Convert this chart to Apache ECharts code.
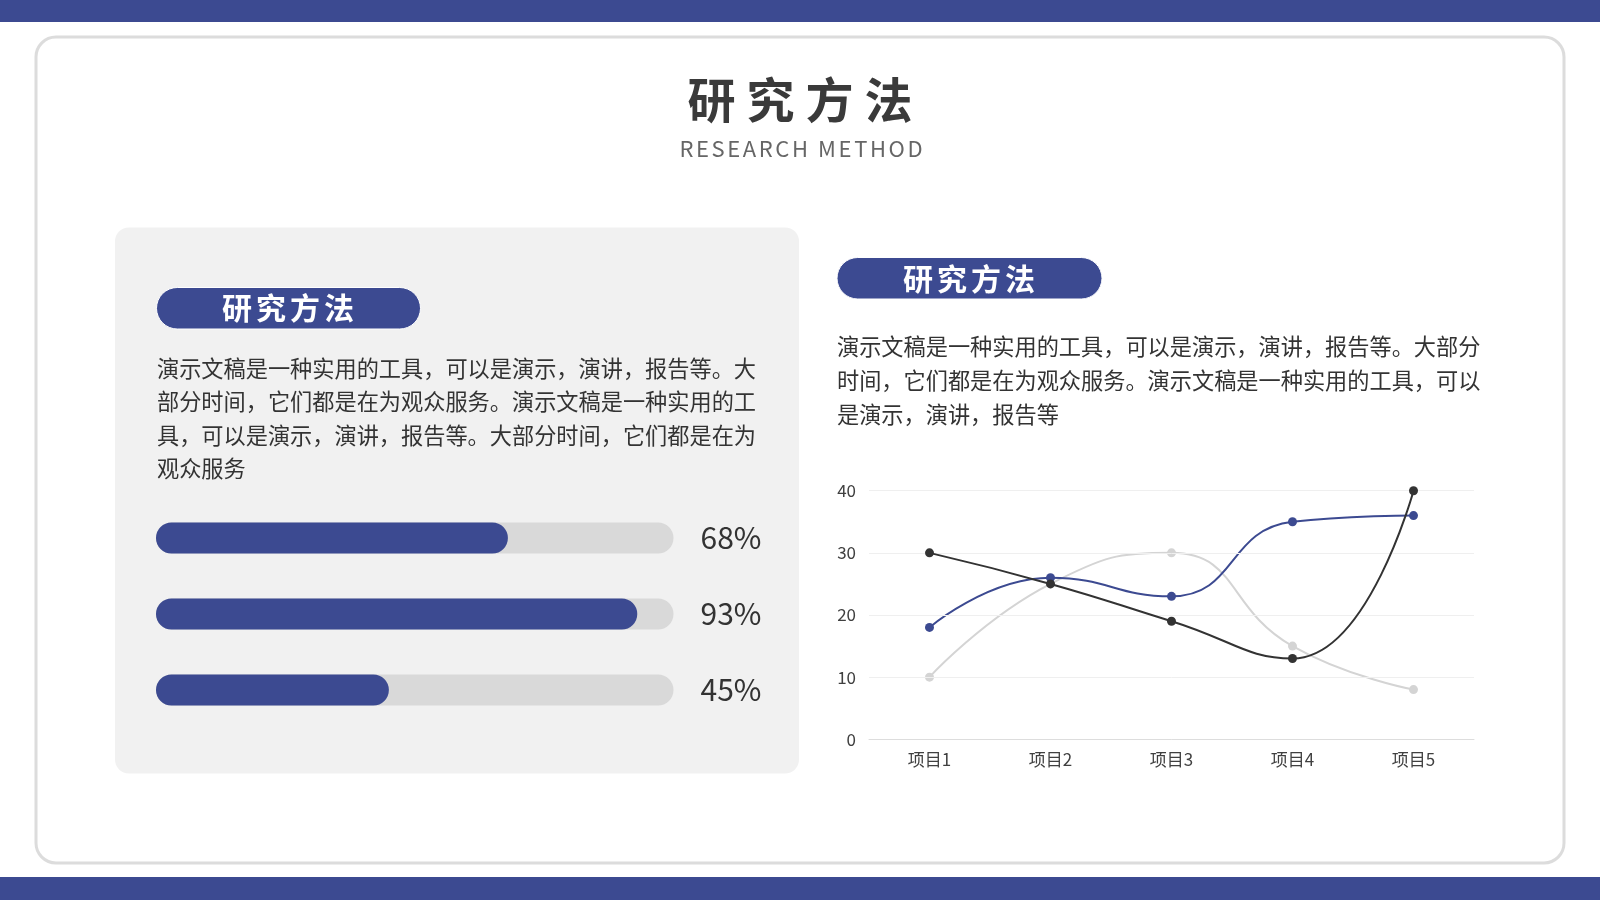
<!DOCTYPE html>
<html>
<head>
<meta charset="utf-8">
<title>研究方法</title>
<script src="https://cdn.jsdelivr.net/npm/echarts@6/dist/echarts.min.js"></script>
<style>
  html, body { margin: 0; padding: 0; background: #fff; }
  #main { width: 1600px; height: 900px; }
</style>
</head>
<body>
<div id="main"></div>
<script>
// ---- data ----
var progressValues = [68, 93, 45];
var progressLabels = progressValues.map(function (v) { return v + '%'; });

var categories = ['项目1', '项目2', '项目3', '项目4', '项目5'];
var seriesGray = [10, 25, 30, 15, 8];
var seriesBlue = [18, 26, 23, 35, 36];
var seriesDark = [30, 25, 19, 13, 40];

var titleText = '研究方法';
var subTitleText = 'RESEARCH METHOD';
var leftText = [
  '演示文稿是一种实用的工具，可以是演示，演讲，报告等。大',
  '部分时间，它们都是在为观众服务。演示文稿是一种实用的工',
  '具，可以是演示，演讲，报告等。大部分时间，它们都是在为',
  '观众服务'
];
var rightText = [
  '演示文稿是一种实用的工具，可以是演示，演讲，报告等。大部分',
  '时间，它们都是在为观众服务。演示文稿是一种实用的工具，可以',
  '是演示，演讲，报告等'
];

var BLUE = '#3c4a91';
var FONT = '"Noto Sans CJK SC", "Noto Sans", sans-serif';

// canvas has no letter-spacing, so spaced headings are laid out char by char
var measureCtx = document.createElement('canvas').getContext('2d');
function spacedText(str, size, weight, spacing, cx, cy, color) {
  measureCtx.font = weight + ' ' + size + 'px ' + FONT;
  var chars = str.split('');
  var widths = chars.map(function (c) { return measureCtx.measureText(c).width; });
  var total = widths.reduce(function (a, b) { return a + b; }, 0) + spacing * (chars.length - 1);
  var x = cx - total / 2;
  var out = [];
  chars.forEach(function (c, i) {
    out.push({
      type: 'text', x: x, y: cy, z: 10,
      style: {
        text: c, fill: color, fontSize: size, fontWeight: weight, fontFamily: FONT,
        textAlign: 'left', textVerticalAlign: 'middle'
      }
    });
    x += widths[i] + spacing;
  });
  return out;
}

function pill(x, y, w, h, cx, cy) {
  return [{
    type: 'rect', z: 5,
    shape: { x: x, y: y, width: w, height: h, r: h / 2 },
    style: { fill: BLUE, stroke: '#ffffff', lineWidth: 1 }
  }].concat(spacedText(titleText, 30, 'bold', 4, cx, cy, '#ffffff'));
}

function paragraph(lines, x, y, lh) {
  return {
    type: 'text', x: x, y: y, z: 10,
    style: {
      text: lines.join('\n'), fill: '#333333', fontSize: 22.2, fontFamily: FONT,
      lineHeight: lh, textAlign: 'left', textVerticalAlign: 'top'
    }
  };
}

var graphics = [
  { type: 'rect', shape: { x: 0, y: 0, width: 1600, height: 22 }, style: { fill: BLUE } },
  { type: 'rect', shape: { x: 0, y: 877, width: 1600, height: 23 }, style: { fill: BLUE } },
  {
    type: 'rect', z: 0,
    shape: { x: 36, y: 37, width: 1528, height: 826, r: 20 },
    style: { fill: '#ffffff', stroke: '#dcdcdc', lineWidth: 3 }
  },
  {
    type: 'rect', z: 1,
    shape: { x: 115, y: 227.5, width: 684, height: 546, r: 14 },
    style: { fill: '#f1f1f1' }
  },
  paragraph(leftText, 157, 351.5, 33.5),
  paragraph(rightText, 837, 330, 34)
]
  .concat(spacedText(titleText, 48, 'bold', 11, 800, 100, '#3a3a3a'))
  .concat(spacedText(subTitleText, 22, 'normal', 2.6, 801, 149, '#666666'))
  .concat(pill(156.5, 287.5, 264, 41.5, 288, 308))
  .concat(pill(837, 257.5, 265, 41.5, 969, 279));

var chart = echarts.init(document.getElementById('main'));

var option = {
  animation: false,
  backgroundColor: '#ffffff',
  graphic: { elements: graphics },
  grid: [
    { left: 156, right: 926.5, top: 500, height: 228 },
    { left: 869, right: 126, top: 490.7, bottom: 160.7 }
  ],
  xAxis: [
    { gridIndex: 0, type: 'value', min: 0, max: 100, show: false },
    {
      gridIndex: 1, type: 'category', data: categories, boundaryGap: true, z: 5,
      axisLine: { lineStyle: { color: '#dddddd' } },
      axisTick: { show: false },
      axisLabel: { color: '#404040', fontSize: 17, fontFamily: FONT, margin: 12 }
    }
  ],
  yAxis: [
    {
      gridIndex: 0, type: 'category', data: progressLabels, inverse: true, position: 'right', z: 5,
      axisLine: { show: false }, axisTick: { show: false }, splitLine: { show: false },
      axisLabel: { color: '#333333', fontSize: 30, fontFamily: FONT, margin: 27 }
    },
    {
      gridIndex: 1, type: 'value', min: 0, max: 40, interval: 10, z: 5,
      axisLine: { show: false }, axisTick: { show: false },
      splitLine: { lineStyle: { color: '#efefef' } },
      axisLabel: { color: '#404040', fontSize: 17, fontFamily: FONT, margin: 13 }
    }
  ],
  series: [
    {
      type: 'bar', xAxisIndex: 0, yAxisIndex: 0, data: progressValues,
      barWidth: 31, z: 3,
      showBackground: true,
      backgroundStyle: { color: '#d9d9d9', borderRadius: 15.5 },
      itemStyle: { color: BLUE, borderRadius: 15.5 }
    },
    {
      type: 'line', xAxisIndex: 1, yAxisIndex: 1, data: seriesGray, smooth: true,
      symbol: 'circle', symbolSize: 9, z: 3,
      lineStyle: { color: '#d4d4d4', width: 2 }, itemStyle: { color: '#d4d4d4' }
    },
    {
      type: 'line', xAxisIndex: 1, yAxisIndex: 1, data: seriesBlue, smooth: true,
      symbol: 'circle', symbolSize: 9, z: 4,
      lineStyle: { color: BLUE, width: 2 }, itemStyle: { color: BLUE }
    },
    {
      type: 'line', xAxisIndex: 1, yAxisIndex: 1, data: seriesDark, smooth: true,
      symbol: 'circle', symbolSize: 9, z: 5,
      lineStyle: { color: '#333333', width: 2 }, itemStyle: { color: '#333333' }
    }
  ]
};

chart.setOption(option);
</script>
</body>
</html>
